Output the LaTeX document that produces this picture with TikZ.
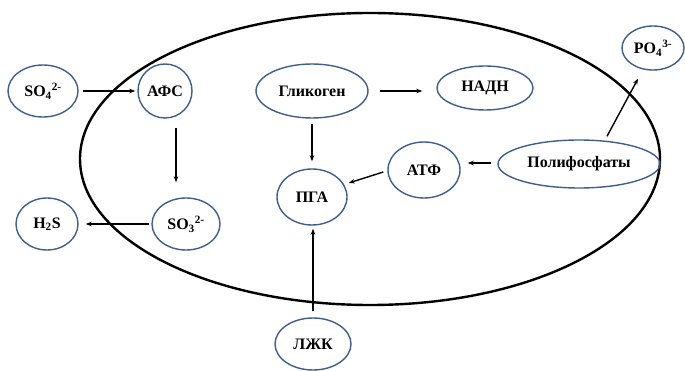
\documentclass[tikz,border=0pt]{standalone}
\usepackage{fontspec}
\setmainfont{Liberation Serif}
\usetikzlibrary{arrows.meta,calc,shapes.geometric}

\definecolor{rim}{RGB}{62,94,140}

\tikzset{
  oval/.style={ellipse, draw=rim, line width=1.4pt, inner sep=0pt,
    font=\fontsize{16}{19}\selectfont\bfseries},
  arr/.style={-{Stealth[length=6pt,width=4.5pt]}, line width=1.4pt},
  cell/.style={line width=2.4pt}
}

\begin{document}
\begin{tikzpicture}[x=1pt,y=-1pt]
\useasboundingbox (0,0) rectangle (685,371);

% cell boundary
\draw[cell] (370,159) ellipse [x radius=290pt, y radius=146pt];

% metabolites
\node[oval, minimum width=70pt, minimum height=52pt] (so4) at (43,91) {SO\textsubscript{4}\textsuperscript{2-}};
\node[oval, minimum width=54pt, minimum height=54pt] (afs) at (165,91) {АФС};
\node[oval, minimum width=62pt, minimum height=52pt] (h2s) at (47,224) {H\textsubscript{2}S};
\node[oval, minimum width=68pt, minimum height=52pt] (so3) at (186,224) {SO\textsubscript{3}\textsuperscript{2-}};
\node[oval, minimum width=112pt, minimum height=54pt] (glyc) at (312,91) {Гликоген};
\node[oval, minimum width=96pt, minimum height=44pt] (nadh) at (485,88) {НАДН};
\node[oval, minimum width=72pt, minimum height=56pt] (atp) at (424,170) {АТФ};
\node[oval, minimum width=70pt, minimum height=56pt] (pga) at (312,197) {ПГА};
\node[oval, minimum width=162pt, minimum height=48pt] (poly) at (579,164) {Полифосфаты};
\node[oval, minimum width=62pt, minimum height=44pt] (po4) at (653,48) {PO\textsubscript{4}\textsuperscript{3-}};
\node[oval, minimum width=76pt, minimum height=52pt] (lzk) at (313,344) {ЛЖК};

% reactions
\draw[arr] ($(so4.east)+(4,0)$) -- ($(afs.west)+(-2,0)$);
\draw[arr] ($(afs.south)+(11,9)$) -- ($(so3.north)+(-10,-15)$);
\draw[arr] ($(so3.west)+(-2,0)$) -- ($(h2s.east)+(7,0)$);
\draw[arr] ($(glyc.east)+(11,0)$) -- ($(nadh.west)+(-14,3)$);
\draw[arr] ($(glyc.south)+(0,5)$) -- ($(pga.north)+(0,-7)$);
\draw[arr] ($(atp.west)+(-4,2)$) -- ($(pga.east)+(1,-14)$);
\draw[arr] ($(poly.west)+(-6,-1)$) -- ($(atp.east)+(7,-7)$);
\draw[arr] ($(poly.north)+(28,-3)$) -- ($(po4.south)+(-15,8)$);
\draw[arr] ($(lzk.north)+(0,-6)$) -- ($(pga.south)+(1,3)$);
\end{tikzpicture}
\end{document}
